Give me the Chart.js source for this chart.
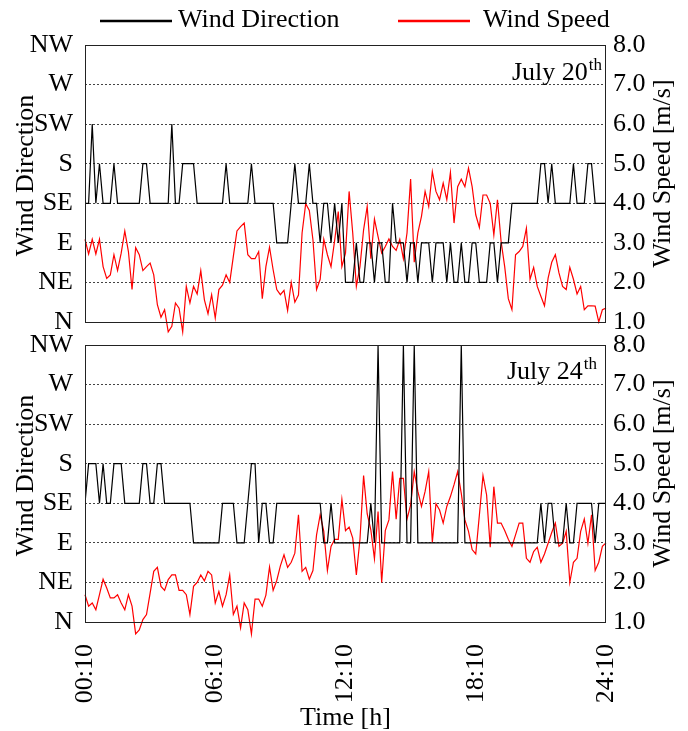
<!DOCTYPE html>
<html>
<head>
<meta charset="utf-8">
<script src="https://cdn.jsdelivr.net/npm/chart.js@4.4.1/dist/chart.umd.min.js"></script>
<style>
  html, body { margin: 0; padding: 0; background: #fff; }
  #wrap { position: relative; width: 688px; height: 731px; }
  #top { position: absolute; left: 0; top: 0; }
  #bottom { position: absolute; left: 0; top: 333px; }
</style>
</head>
<body>
<div id="wrap">
  <canvas id="top" width="688" height="340"></canvas>
  <canvas id="bottom" width="688" height="398"></canvas>
</div>
<script>
// direction levels, bottom to top
const dirLabels = ['N', 'NE', 'E', 'SE', 'S', 'SW', 'W', 'NW'];
// 10-minute samples, index 0 = 00:10
const timeTicks = [0, 36, 72, 108, 144];
const timeLabels = ['00:10', '06:10', '12:10', '18:10', '24:10'];

const dirJul20 = [
  'SE','SE','SW','SE','S','SE','SE','SE','S','SE','SE','SE',
  'SE','SE','SE','SE','S','S','SE','SE','SE','SE','SE','SE',
  'SW','SE','SE','S','S','S','S','SE','SE','SE','SE','SE',
  'SE','SE','SE','S','SE','SE','SE','SE','SE','SE','S','SE',
  'SE','SE','SE','SE','SE','E','E','E','E','SE','S','SE',
  'SE','SE','S','SE','SE','E','SE','SE','E','SE','E','SE',
  'NE','NE','NE','E','NE','NE','E','E','NE','E','E','NE',
  'NE','SE','E','E','E','NE','E','E','NE','E','E','E',
  'NE','E','E','E','NE','E','NE','NE','E','NE','NE','E',
  'E','NE','NE','NE','E','E','NE','E','E','E','SE','SE',
  'SE','SE','SE','SE','SE','SE','S','S','SE','S','SE','SE',
  'SE','SE','SE','S','SE','SE','SE','S','S','SE','SE','SE',
  'SE'
];
const speedJul20 = [
  3.09, 2.72, 3.09, 2.72, 3.09, 2.40, 2.10, 2.19, 2.70, 2.30, 2.74, 3.30,
  2.78, 1.82, 2.88, 2.70, 2.30, 2.40, 2.49, 2.19, 1.44, 1.12, 1.31, 0.75,
  0.89, 1.48, 1.35, 0.75, 1.90, 1.48, 1.90, 1.71, 2.30, 1.56, 1.21, 1.69,
  1.10, 1.82, 1.93, 2.19, 2.00, 2.66, 3.30, 3.41, 3.50, 2.70, 2.60, 2.60,
  2.78, 1.59, 2.40, 2.89, 2.32, 1.82, 1.69, 1.80, 1.29, 2.00, 1.50, 1.68,
  3.25, 3.99, 3.82, 3.08, 1.82, 2.08, 3.09, 2.70, 2.40, 3.06, 3.79, 2.40,
  2.74, 4.30, 3.25, 1.90, 2.40, 3.33, 3.92, 2.60, 3.60, 3.16, 2.74, 2.91,
  3.10, 2.91, 2.81, 3.09, 2.60, 3.25, 4.61, 2.51, 3.25, 3.67, 4.30, 3.92,
  4.80, 4.30, 4.09, 4.51, 4.09, 4.78, 3.50, 4.42, 4.61, 4.42, 4.89, 4.42,
  3.71, 3.39, 4.21, 4.21, 4.00, 3.20, 4.09, 3.04, 2.40, 1.59, 1.31, 2.70,
  2.78, 2.91, 3.37, 2.08, 2.38, 1.90, 1.65, 1.41, 2.11, 2.51, 2.70, 2.24,
  1.90, 1.82, 2.38, 2.08, 1.71, 1.90, 1.31, 1.41, 1.41, 1.40, 1.00, 1.31,
  1.35
];

const dirJul24 = [
  'SE','S','S','S','SE','S','SE','SE','S','S','S','SE',
  'SE','SE','SE','SE','S','S','SE','SE','S','S','SE','SE',
  'SE','SE','SE','SE','SE','SE','E','E','E','E','E','E',
  'E','E','SE','SE','SE','SE','E','E','E','SE','S','S',
  'E','SE','SE','E','E','SE','SE','SE','SE','SE','SE','SE',
  'SE','SE','SE','SE','SE','SE','E','E','SE','E','E','E',
  'E','E','E','E','E','E','E','SE','E','NW','E','E',
  'E','E','E','E','NW','E','E','NW','E','E','E','E',
  'E','E','E','E','E','E','E','E','NW','E','E','E',
  'E','E','E','E','E','E','E','E','E','E','E','E',
  'E','E','E','E','E','E','SE','E','SE','SE','E','E',
  'E','SE','E','E','SE','SE','SE','SE','SE','E','SE','SE',
  'SE'
];
const speedJul24 = [
  1.69, 1.40, 1.48, 1.31, 1.69, 2.08, 1.86, 1.61, 1.61, 1.69, 1.48, 1.31,
  1.69, 1.40, 0.70, 0.80, 1.06, 1.19, 1.73, 2.28, 2.38, 1.90, 1.80, 2.07,
  2.19, 2.19, 1.80, 1.80, 1.69, 1.19, 1.90, 2.00, 2.19, 2.04, 2.28, 2.19,
  1.48, 1.77, 1.40, 1.69, 2.19, 1.19, 1.40, 0.85, 1.48, 1.31, 0.70, 1.58,
  1.58, 1.40, 1.68, 2.39, 1.80, 2.05, 2.42, 2.70, 2.38, 2.51, 2.74, 3.71,
  2.28, 2.38, 2.08, 2.30, 3.20, 3.71, 3.29, 2.30, 2.91, 3.09, 3.09, 4.10,
  3.31, 3.40, 3.12, 2.19, 3.09, 4.70, 3.73, 3.33, 2.60, 3.79, 2.00, 3.31,
  3.58, 4.80, 3.60, 4.63, 4.63, 3.60, 3.96, 4.80, 4.30, 3.92, 4.30, 4.80,
  3.01, 3.99, 3.83, 3.50, 3.92, 4.17, 4.47, 4.80, 4.25, 3.58, 3.29, 2.83,
  2.72, 3.70, 4.70, 4.21, 2.89, 4.42, 3.50, 3.50, 3.31, 3.09, 2.91, 3.20,
  3.50, 3.50, 2.61, 2.51, 2.78, 2.89, 2.51, 2.72, 2.99, 3.26, 3.50, 2.91,
  2.99, 3.29, 2.00, 2.51, 2.61, 3.29, 3.60, 2.99, 3.71, 2.30, 2.51, 2.91,
  3.00
];

const SERIF = "'Liberation Serif', 'Times New Roman', serif";
Chart.defaults.font.family = SERIF;
Chart.defaults.font.size = 26;
Chart.defaults.color = '#000';

const toPoints = (arr, f) => arr.map((v, i) => ({ x: i, y: f ? f(v) : v }));

// box around the plot area
const frame = {
  id: 'frame',
  afterDatasetsDraw(chart) {
    const { ctx, chartArea: a } = chart;
    ctx.save();
    ctx.strokeStyle = '#222';
    ctx.lineWidth = 1;
    ctx.strokeRect(a.left + 0.5, a.top + 0.5, a.right - a.left - 1, a.bottom - a.top);
    ctx.restore();
  }
};

// rotated axis titles and the date note
const notes = {
  id: 'notes',
  afterDraw(chart, args, opts) {
    const { ctx, chartArea: a } = chart;
    const mid = (a.top + a.bottom) / 2;
    ctx.save();
    ctx.fillStyle = '#000';
    ctx.textAlign = 'center';
    ctx.textBaseline = 'middle';
    ctx.font = '26px ' + SERIF;
    [[26, mid - 8, 'Wind Direction'], [663, mid - 10, 'Wind Speed [m/s]']].forEach(([x, y, t]) => {
      ctx.save();
      ctx.translate(x, y);
      ctx.rotate(-Math.PI / 2);
      ctx.fillText(t, 0, 0);
      ctx.restore();
    });
    // "July 20th" with raised suffix
    ctx.textBaseline = 'alphabetic';
    ctx.textAlign = 'right';
    ctx.font = '17px ' + SERIF;
    ctx.fillText('th', opts.right, opts.base - 10);
    const w = ctx.measureText('th').width;
    ctx.font = '26px ' + SERIF;
    ctx.fillText(opts.day, opts.right - w - 1, opts.base);
    ctx.restore();
  }
};

// legend drawn as line samples above the top panel
const legendLines = {
  id: 'legendLines',
  afterDraw(chart) {
    const { ctx } = chart;
    const items = [[100, 172, 178, '#000', 'Wind Direction'], [398, 470, 483, '#ff0000', 'Wind Speed']];
    ctx.save();
    ctx.font = '26px ' + SERIF;
    ctx.textBaseline = 'middle';
    ctx.textAlign = 'left';
    items.forEach(([x1, x2, tx, col, label]) => {
      ctx.strokeStyle = col;
      ctx.lineWidth = 2.5;
      ctx.beginPath();
      ctx.moveTo(x1, 21);
      ctx.lineTo(x2, 21);
      ctx.stroke();
      ctx.fillStyle = '#000';
      ctx.fillText(label, tx, 20);
    });
    ctx.restore();
  }
};

function yAxes() {
  return {
    yd: {
      position: 'left',
      min: 0, max: 7,
      ticks: { stepSize: 1, padding: 12, callback: v => dirLabels[v] },
      grid: { color: '#444', lineWidth: 1, drawTicks: false },
      border: { display: false, dash: [2, 2] },
      afterFit: s => { s.width = 85; s.paddingTop = 0; s.paddingBottom = 0; }
    },
    ys: {
      position: 'right',
      min: 1, max: 8,
      ticks: { stepSize: 1, padding: 7, callback: v => v.toFixed(1) },
      grid: { drawOnChartArea: false, drawTicks: false },
      border: { display: false },
      afterFit: s => { s.width = 82; s.paddingTop = 0; s.paddingBottom = 0; }
    }
  };
}

function datasets(dirs, speeds) {
  return [
    {
      label: 'Wind Direction',
      data: toPoints(dirs, d => dirLabels.indexOf(d)),
      yAxisID: 'yd',
      borderColor: '#000',
      borderWidth: 1.2,
      pointRadius: 0,
      tension: 0
    },
    {
      label: 'Wind Speed',
      data: toPoints(speeds),
      yAxisID: 'ys',
      borderColor: '#ff0000',
      borderWidth: 1.2,
      pointRadius: 0,
      tension: 0,
      clip: false
    }
  ];
}

new Chart(document.getElementById('top'), {
  type: 'line',
  data: { datasets: datasets(dirJul20, speedJul20) },
  options: {
    responsive: false,
    animation: false,
    layout: { padding: { top: 45, bottom: 18, left: 0, right: 0 } },
    plugins: {
      legend: { display: false },
      tooltip: { enabled: false },
      notes: { day: 'July 20', right: 602, base: 80 }
    },
    scales: Object.assign({
      x: { type: 'linear', min: 0, max: 144, display: false }
    }, yAxes())
  },
  plugins: [frame, notes, legendLines]
});

new Chart(document.getElementById('bottom'), {
  type: 'line',
  data: { datasets: datasets(dirJul24, speedJul24) },
  options: {
    responsive: false,
    animation: false,
    layout: { padding: { top: 12, bottom: 0, left: 0, right: 0 } },
    plugins: {
      legend: { display: false },
      tooltip: { enabled: false },
      notes: { day: 'July 24', right: 597, base: 46 }
    },
    scales: Object.assign({
      x: {
        type: 'linear', min: 0, max: 144,
        afterBuildTicks: s => { s.ticks = timeTicks.map(v => ({ value: v })); },
        ticks: {
          autoSkip: false, minRotation: 90, maxRotation: 90, padding: 14,
          callback: v => timeLabels[timeTicks.indexOf(v)]
        },
        grid: { display: false },
        border: { display: false },
        title: { display: true, text: 'Time [h]', padding: { top: 0, bottom: -3 } },
        afterFit: s => { s.height = 109; }
      }
    }, yAxes())
  },
  plugins: [frame, notes]
});
</script>
</body>
</html>
